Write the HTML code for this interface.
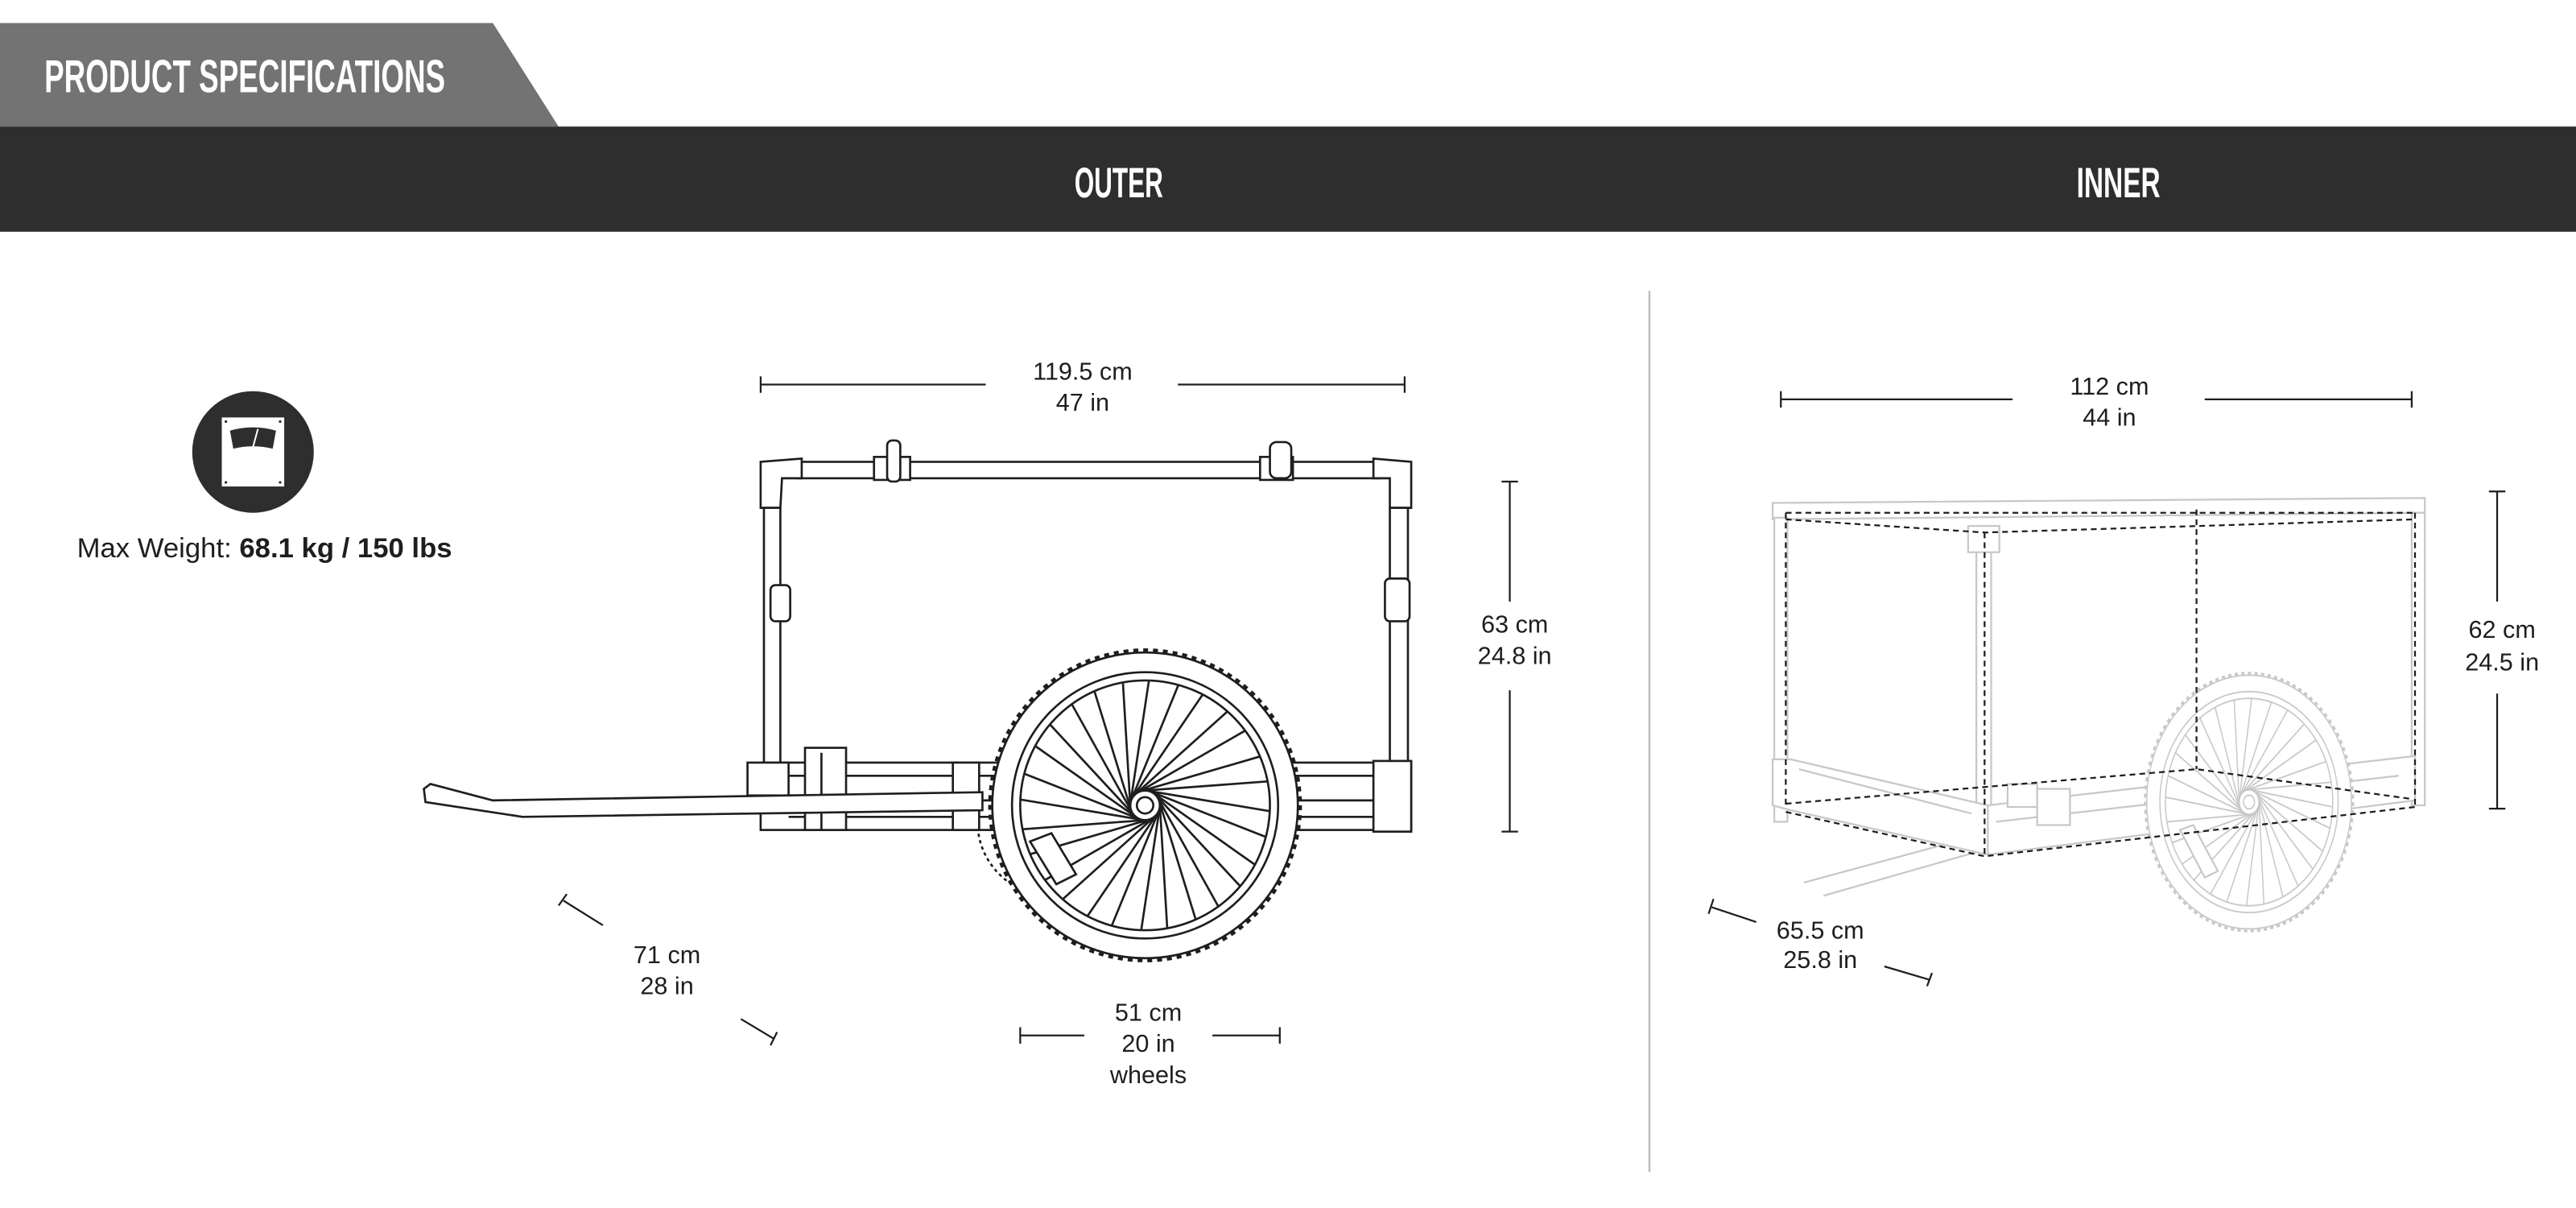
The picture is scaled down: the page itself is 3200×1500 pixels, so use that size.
<!DOCTYPE html>
<html><head><meta charset="utf-8"><style>
html,body{margin:0;padding:0;background:#fff}
svg{display:block}
text{font-family:"Liberation Sans",sans-serif;fill:#1e1e1e}
.h{font-family:"Liberation Sans Narrow","Liberation Sans",sans-serif;font-weight:bold;fill:#fff}
.k{stroke:#1e1e1e;stroke-width:1.3;fill:#fff}
.g{stroke:#c8c8c8;stroke-width:1.1;fill:#fff}
.d{stroke:#1e1e1e;stroke-width:1.1;fill:none;stroke-dasharray:3.5 2.5}
.dim{stroke:#1e1e1e;stroke-width:1.1;fill:none}
</style></head><body>
<svg width="3200" height="1500" viewBox="0 0 1568 735" xmlns="http://www.w3.org/2000/svg">
<defs>
<line id="s1" x1="-9" y1="-4" x2="50" y2="-57" />
<line id="s2" x1="9" y1="4" x2="-50" y2="57" />
<g id="wheel">
 <circle r="94.5" fill="none" stroke-width="2" stroke-dasharray="3 3"/>
 <circle r="93" fill="#fff"/>
 <circle r="81" fill="none"/>
 <circle r="76" fill="none"/>
 <g>
  <use href="#s1" transform="rotate(0)"/><use href="#s1" transform="rotate(25.7)"/><use href="#s1" transform="rotate(51.4)"/><use href="#s1" transform="rotate(77.1)"/><use href="#s1" transform="rotate(102.8)"/><use href="#s1" transform="rotate(128.5)"/><use href="#s1" transform="rotate(154.2)"/><use href="#s1" transform="rotate(180)"/><use href="#s1" transform="rotate(205.7)"/><use href="#s1" transform="rotate(231.4)"/><use href="#s1" transform="rotate(257.1)"/><use href="#s1" transform="rotate(282.8)"/><use href="#s1" transform="rotate(308.5)"/><use href="#s1" transform="rotate(334.2)"/>
  <use href="#s2" transform="rotate(12)"/><use href="#s2" transform="rotate(37.7)"/><use href="#s2" transform="rotate(63.4)"/><use href="#s2" transform="rotate(89.1)"/><use href="#s2" transform="rotate(114.8)"/><use href="#s2" transform="rotate(140.5)"/><use href="#s2" transform="rotate(166.2)"/><use href="#s2" transform="rotate(192)"/><use href="#s2" transform="rotate(217.7)"/><use href="#s2" transform="rotate(243.4)"/><use href="#s2" transform="rotate(269.1)"/><use href="#s2" transform="rotate(294.8)"/><use href="#s2" transform="rotate(320.5)"/><use href="#s2" transform="rotate(346.2)"/>
 </g>
 <circle r="9" fill="#fff"/>
 <circle r="5" fill="#fff"/>
</g>
</defs>

<polygon points="0,14 300,14 340,77 0,77" fill="#737373"/>
<rect x="0" y="77" width="1568" height="64" fill="#2e2e2e"/>
<text class="h" x="27" y="56" font-size="28" textLength="244" lengthAdjust="spacingAndGlyphs">PRODUCT SPECIFICATIONS</text>
<text class="h" x="654" y="120" font-size="26" textLength="54" lengthAdjust="spacingAndGlyphs">OUTER</text>
<text class="h" x="1264" y="120" font-size="26" textLength="51" lengthAdjust="spacingAndGlyphs">INNER</text>

<line x1="1004" y1="177" x2="1004" y2="713" stroke="#bdbdbd" stroke-width="1.2"/>

<circle cx="154" cy="275" r="37" fill="#2e2e2e"/>
<rect x="135" y="254" width="38" height="42" fill="#fff"/>
<path d="M140,262 Q154,258 168,262 L166,273 Q154,270 142,273 Z" fill="#2e2e2e"/>
<line x1="154" y1="272" x2="157" y2="261" stroke="#fff" stroke-width="1"/>
<circle cx="137.5" cy="256.5" r="0.8" fill="#2e2e2e"/><circle cx="170.5" cy="256.5" r="0.8" fill="#2e2e2e"/>
<circle cx="137.5" cy="293.5" r="0.8" fill="#2e2e2e"/><circle cx="170.5" cy="293.5" r="0.8" fill="#2e2e2e"/>
<text x="161" y="339" font-size="17" text-anchor="middle">Max Weight: <tspan font-weight="bold">68.1 kg / 150 lbs</tspan></text>

<g class="k">
 <circle cx="640" cy="500" r="45" fill="none" stroke-dasharray="2 2"/>
 <rect x="485" y="281" width="355" height="10"/>
 <path d="M463,281 L488,279 L488,291 L476,291 L475,309 L463,309 Z"/>
 <path d="M836,279 L859,281 L859,309 L846,309 L846,291 L836,291 Z"/>
 <rect x="532" y="278" width="22" height="14"/><rect x="540" y="268" width="8" height="25" rx="3"/>
 <rect x="767" y="278" width="20" height="14"/><rect x="773" y="269" width="13" height="22" rx="4"/>
 <rect x="465" y="309" width="10" height="156"/>
 <rect x="846" y="309" width="11" height="156"/>
 <rect x="469" y="356" width="12" height="22" rx="3"/>
 <rect x="843" y="352" width="15" height="26" rx="3"/>
 <rect x="463" y="464" width="396" height="41"/>
 <line x1="480" y1="472" x2="836" y2="472"/>
 <line x1="480" y1="487" x2="850" y2="487"/>
 <line x1="480" y1="497" x2="836" y2="497"/>
 <rect x="455" y="464" width="25" height="20"/>
 <rect x="580" y="464" width="16" height="41"/>
 <rect x="836" y="463" width="23" height="43"/>
 <rect x="490" y="455" width="25" height="50"/>
 <line x1="500" y1="458" x2="500" y2="505"/>
</g>
<g class="k" transform="translate(697,490)"><use href="#wheel"/></g>
<g class="k">
 <polygon points="627,512 640,507 655,532 643,538"/>
 <polygon points="258,480 262,477 300,487 598,482 598,493 318,497 259,488"/>
</g>

<g class="dim">
 <line x1="463" y1="234" x2="600" y2="234"/><line x1="717" y1="234" x2="855" y2="234"/>
 <line x1="463" y1="229" x2="463" y2="239"/><line x1="855" y1="229" x2="855" y2="239"/>
 <line x1="919" y1="293" x2="919" y2="366"/><line x1="919" y1="420" x2="919" y2="506"/>
 <line x1="914" y1="293" x2="924" y2="293"/><line x1="914" y1="506" x2="924" y2="506"/>
 <line x1="343" y1="548" x2="367" y2="563"/><line x1="340" y1="551" x2="345" y2="544"/>
 <line x1="451" y1="620" x2="471" y2="632"/><line x1="469" y1="636" x2="473" y2="628"/>
 <line x1="621" y1="630" x2="660" y2="630"/><line x1="738" y1="630" x2="779" y2="630"/>
 <line x1="621" y1="625" x2="621" y2="635"/><line x1="779" y1="625" x2="779" y2="635"/>
</g>
<g font-size="15" text-anchor="middle">
 <text x="659" y="231">119.5 cm</text><text x="659" y="250">47 in</text>
 <text x="922" y="385">63 cm</text><text x="922" y="404">24.8 in</text>
 <text x="406" y="586">71 cm</text><text x="406" y="605">28 in</text>
 <text x="699" y="621">51 cm</text><text x="699" y="640">20 in</text><text x="699" y="659">wheels</text>
</g>

<g class="g">
 <line x1="1098" y1="537" x2="1205" y2="508" fill="none"/>
 <line x1="1110" y1="545" x2="1215" y2="515" fill="none"/>
 <polygon points="1079,306 1476,303 1476,312 1079,316"/>
 <rect x="1080" y="315" width="8" height="185"/>
 <rect x="1468" y="312" width="8" height="178"/>
 <rect x="1203" y="332" width="9" height="183"/>
 <rect x="1198" y="320" width="19" height="16"/>
 <polygon points="1079,462 1090,462 1210,490 1210,520 1090,493 1079,490"/>
 <polygon points="1210,490 1470,460 1470,487 1210,520"/>
 <line x1="1095" y1="468" x2="1200" y2="495"/>
 <line x1="1215" y1="500" x2="1460" y2="472"/>
 <rect x="1222" y="477" width="18" height="14"/>
 <rect x="1240" y="480" width="20" height="22"/>
</g>
<g class="g" transform="translate(1369,488) scale(0.67,0.83)"><use href="#wheel"/></g>
<g class="g"><polygon points="1327,505 1335,502 1350,530 1342,534"/></g>
<g class="d">
 <line x1="1087" y1="312" x2="1470" y2="312"/>
 <polyline points="1087,316 1208,324 1470,316"/>
 <line x1="1087" y1="312" x2="1087" y2="492"/>
 <line x1="1470" y1="312" x2="1470" y2="490"/>
 <line x1="1208" y1="324" x2="1208" y2="521"/>
 <line x1="1337" y1="310" x2="1337" y2="468"/>
 <polyline points="1087,489 1337,468 1467,486"/>
 <polyline points="1087,494 1208,521 1470,491"/>
</g>

<g class="dim">
 <line x1="1084" y1="243" x2="1225" y2="243"/><line x1="1342" y1="243" x2="1468" y2="243"/>
 <line x1="1084" y1="238" x2="1084" y2="248"/><line x1="1468" y1="238" x2="1468" y2="248"/>
 <line x1="1520" y1="299" x2="1520" y2="366"/><line x1="1520" y1="422" x2="1520" y2="492"/>
 <line x1="1515" y1="299" x2="1525" y2="299"/><line x1="1515" y1="492" x2="1525" y2="492"/>
 <line x1="1042" y1="552" x2="1069" y2="561"/><line x1="1040" y1="556" x2="1043" y2="547"/>
 <line x1="1147" y1="588" x2="1174" y2="596"/><line x1="1173" y1="600" x2="1176" y2="592"/>
</g>
<g font-size="15" text-anchor="middle">
 <text x="1284" y="240">112 cm</text><text x="1284" y="259">44 in</text>
 <text x="1523" y="388">62 cm</text><text x="1523" y="408">24.5 in</text>
 <text x="1108" y="571">65.5 cm</text><text x="1108" y="589">25.8 in</text>
</g>
</svg>
</body></html>
